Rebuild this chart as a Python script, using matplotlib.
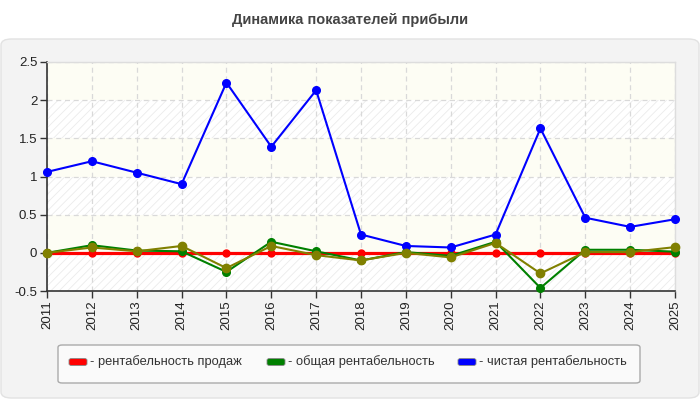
import matplotlib
matplotlib.use("Agg")
import matplotlib.pyplot as plt
from matplotlib.patches import FancyBboxPatch

plt.rcParams['font.family'] = ['Liberation Sans', 'DejaVu Sans']
plt.rcParams['hatch.linewidth'] = 0.6

years = [2011, 2012, 2013, 2014, 2015, 2016, 2017, 2018, 2019, 2020, 2021, 2022, 2023, 2024, 2025]
sales_margin = [0, 0, 0, 0, 0, 0, 0, 0, 0, 0, 0, 0, 0, 0, 0]
total_margin = [0, 0.10, 0.03, 0.02, -0.25, 0.145, 0.02, -0.10, 0.01, -0.04, 0.145, -0.46, 0.04, 0.04, 0.015]
net_margin = [1.06, 1.20, 1.05, 0.90, 2.23, 1.39, 2.13, 0.24, 0.09, 0.07, 0.24, 1.63, 0.46, 0.34, 0.44]
extra_margin = [0, 0.07, 0.02, 0.09, -0.20, 0.09, -0.03, -0.10, 0.0, -0.06, 0.13, -0.27, 0.01, 0.01, 0.075]

legend_labels = ['- рентабельность продаж', '- общая рентабельность', '- чистая рентабельность']
legend_colors = ['#ff0000', '#008000', '#0000ff']
yticks = [-0.5, 0, 0.5, 1, 1.5, 2, 2.5]
ytick_labels = ['-0.5', '0', '0.5', '1', '1.5', '2', '2.5']

W, H = 700, 400
fig = plt.figure(figsize=(7, 4), dpi=100)
fig.patch.set_facecolor('white')

# серая панель со скруглёнными углами
panel = FancyBboxPatch((1 / W, 2 / H), 698 / W, 359 / H, boxstyle='round,pad=0,rounding_size=0.015',
                       transform=fig.transFigure, facecolor='#f3f3f3', edgecolor='#e2e2e2', lw=1,
                       zorder=-10)
fig.patches.append(panel)

fig.text(0.5, 1 - 20 / H, 'Динамика показателей прибыли', ha='center', va='center',
         fontsize=10.5, fontweight='bold', color='#444444')

ax = fig.add_axes([47 / W, 1 - 291 / H, 628 / W, 229 / H])
ax.set_facecolor('white')

# полосы фона
for i in range(len(yticks) - 1):
    lo, hi = yticks[i], yticks[i + 1]
    if i % 2 == 0:
        ax.axhspan(lo, hi, facecolor='white', edgecolor='#ebebeb', hatch='////', lw=0, zorder=0)
    else:
        ax.axhspan(lo, hi, facecolor='#fdfdf4', lw=0, zorder=0)

ax.grid(True, color='#d9d9d9', linestyle=(0, (4, 3)), lw=0.9, zorder=1)
ax.set_axisbelow(True)

ax.plot(years, sales_margin, color='#ff0000', lw=2.3, marker='o', ms=5, zorder=3, clip_on=False)
ax.plot(years, total_margin, color='#008000', lw=1.5, marker='o', ms=5.5, zorder=4, clip_on=False)
ax.plot(years, net_margin, color='#0000ff', lw=1.5, marker='o', ms=5.5, zorder=5, clip_on=False)
ax.plot(years, extra_margin, color='#808000', lw=1.5, marker='o', ms=6, zorder=6, clip_on=False)

ax.set_xlim(years[0], years[-1])
ax.set_ylim(-0.5, 2.5)
ax.set_xticks(years)
ax.set_xticklabels([str(y) for y in years], rotation=90, fontsize=9.5, color='#222222')
ax.set_yticks(yticks)
ax.set_yticklabels(ytick_labels, fontsize=9.5, color='#222222')
ax.tick_params(axis='both', length=5, width=1, color='#333333', pad=2)

for s in ['left', 'bottom']:
    ax.spines[s].set_color('#333333')
    ax.spines[s].set_linewidth(1.2)
for s in ['top', 'right']:
    ax.spines[s].set_color('#dddddd')
    ax.spines[s].set_linewidth(1)

# легенда вручную
frame = FancyBboxPatch((58 / W, 1 - 383 / H), 582 / W, 38 / H, boxstyle='round,pad=0,rounding_size=0.006',
                       transform=fig.transFigure, facecolor='#fafafa', edgecolor='#aaaaaa', lw=1)
fig.patches.append(frame)
item_x = [69, 267, 458]
ly = 1 - 362 / H
for x, c, lab in zip(item_x, legend_colors, legend_labels):
    fig.patches.append(FancyBboxPatch((x / W, ly - 3.5 / H), 18 / W, 7 / H,
                                      boxstyle='round,pad=0,rounding_size=0.004',
                                      transform=fig.transFigure, facecolor=c, edgecolor='#888888', lw=0.6))
    fig.text((x + 21) / W, ly, lab, ha='left', va='center', fontsize=9.3, color='#333333')

fig.savefig('out.png', dpi=100)
